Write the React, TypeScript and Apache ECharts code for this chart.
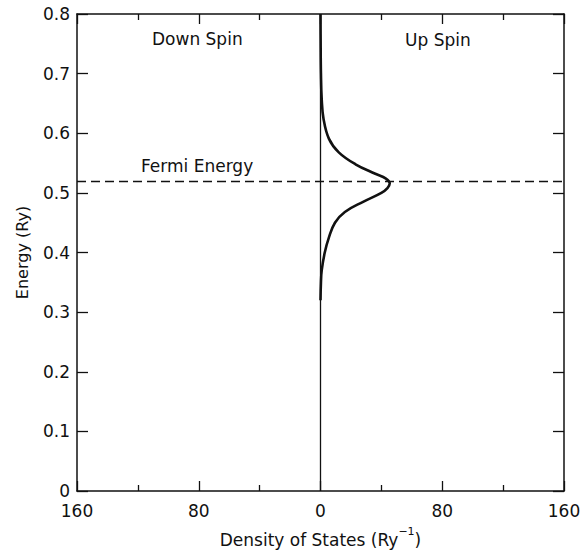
import React, { useEffect, useRef } from "react";
import * as echarts from "echarts";

// Up-spin density of states (Ry^-1) vs energy (Ry)
const dosEnergy = [0.32, 0.35, 0.37, 0.40, 0.425, 0.45, 0.468, 0.485, 0.50, 0.508, 0.516, 0.524, 0.532, 0.548, 0.568, 0.591, 0.624, 0.657, 0.70, 0.75, 0.80];
const dosValue = [0, 0.3, 0.8, 2.8, 5.5, 9.5, 16, 28, 40, 44, 45.5, 43, 36, 23, 12, 5.5, 2, 0.8, 0.3, 0.1, 0];
const fermiEnergy = [0.516];
const xRange = [-160, 160];
const yRange = [0, 0.8];
const xTickLabels: Record<string, string> = { "-160": "160", "-80": "80", "0": "0", "80": "80", "160": "160" };
const yTickLabels = ["0", "0.1", "0.2", "0.3", "0.4", "0.5", "0.6", "0.7", "0.8"];
const panelLabels = ["Down Spin", "Up Spin", "Fermi Energy"];

const FONT = "DejaVu Sans";
const INK = "#111";

export default function App() {
  const ref = useRef<HTMLDivElement>(null);
  useEffect(() => {
    if (!ref.current) return;
    const chart = echarts.init(ref.current, null, { renderer: "svg" });
    const axisLine = { show: true, onZero: false, lineStyle: { color: INK, width: 1.5 } };
    const xCommon = {
      type: "value",
      min: xRange[0],
      max: xRange[1],
      interval: 80,
      axisLine,
      axisTick: { show: true, inside: true, length: 10, lineStyle: { color: INK, width: 1.3 } },
      minorTick: { show: true, splitNumber: 2, length: 6, lineStyle: { color: INK, width: 1.3 } },
      splitLine: { show: false },
      minorSplitLine: { show: false },
    };
    const yCommon = {
      type: "value",
      min: yRange[0],
      max: yRange[1],
      interval: 0.1,
      axisLine,
      axisTick: { show: true, inside: true, length: 11, lineStyle: { color: INK, width: 1.3 } },
      splitLine: { show: false },
    };
    const curve = dosEnergy.map((e, i) => [dosValue[i], e]);
    chart.setOption({
      animation: false,
      backgroundColor: "#fff",
      grid: { left: 77, right: 23, top: 14, bottom: 57 },
      xAxis: [
        {
          ...xCommon,
          position: "bottom",
          axisLabel: {
            show: true,
            margin: 11,
            fontSize: 17,
            fontFamily: FONT,
            color: INK,
            formatter: (v: number) => xTickLabels[String(Math.round(v))] ?? "",
          },
          name: "{a|Density of States (Ry}{s|−1}{a|)}",
          nameLocation: "middle",
          nameGap: 35,
          nameTextStyle: {
            rich: {
              a: { fontSize: 17, fontFamily: FONT, color: INK, verticalAlign: "bottom", lineHeight: 22 },
              s: { fontSize: 11, fontFamily: FONT, color: INK, verticalAlign: "top", lineHeight: 22 },
            },
          },
        },
        { ...xCommon, position: "top", axisLabel: { show: false } },
      ],
      yAxis: [
        {
          ...yCommon,
          position: "left",
          axisLabel: {
            show: true,
            margin: 7,
            fontSize: 17,
            fontFamily: FONT,
            color: INK,
            formatter: (v: number) => yTickLabels[Math.round(v * 10)] ?? "",
          },
          name: "Energy (Ry)",
          nameLocation: "middle",
          nameGap: 47,
          nameTextStyle: { fontSize: 16, fontFamily: FONT, color: INK },
        },
        { ...yCommon, position: "right", axisLabel: { show: false } },
      ],
      series: [
        {
          type: "line",
          data: [[0, yRange[0]], [0, yRange[1]]],
          symbol: "none",
          lineStyle: { color: INK, width: 1.3 },
          silent: true,
        },
        {
          type: "line",
          data: curve,
          smooth: 0.4,
          symbol: "none",
          lineStyle: { color: INK, width: 2.6 },
          markLine: {
            silent: true,
            symbol: "none",
            label: { show: false },
            lineStyle: { color: INK, width: 1.3, type: [9, 5] },
            data: fermiEnergy.map((f) => ({ yAxis: f })),
          },
        },
      ],
      graphic: [
        { type: "text", left: 152, top: 30, style: { text: panelLabels[0], font: `17px '${FONT}'`, fill: INK } },
        { type: "text", left: 405, top: 31, style: { text: panelLabels[1], font: `17px '${FONT}'`, fill: INK } },
        { type: "text", left: 141, top: 157, style: { text: panelLabels[2], font: `17px '${FONT}'`, fill: INK } },
      ],
    });
    return () => chart.dispose();
  }, []);
  return <div ref={ref} style={{ position: "absolute", left: 0, top: 0, width: 587, height: 553 }} />;
}
